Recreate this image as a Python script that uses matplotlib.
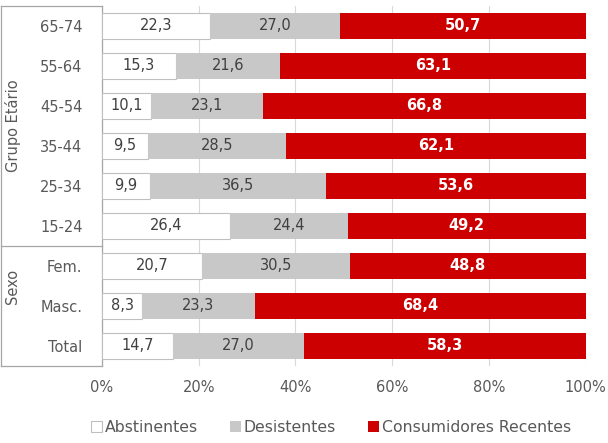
import matplotlib
matplotlib.use("Agg")
import matplotlib.pyplot as plt
from matplotlib.patches import Patch
from matplotlib.lines import Line2D
from matplotlib.transforms import blended_transform_factory
from matplotlib.ticker import FuncFormatter

plt.rcParams['font.family'] = ['DejaVu Sans']

categories = ["65-74", "55-64", "45-54", "35-44", "25-34", "15-24", "Fem.", "Masc.", "Total"]
abstinentes = [22.3, 15.3, 10.1, 9.5, 9.9, 26.4, 20.7, 8.3, 14.7]
desistentes = [27.0, 21.6, 23.1, 28.5, 36.5, 24.4, 30.5, 23.3, 27.0]
consumidores = [50.7, 63.1, 66.8, 62.1, 53.6, 49.2, 48.8, 68.4, 58.3]
series_names = ["Abstinentes", "Desistentes", "Consumidores Recentes"]
groups = [("Grupo Etário", 0, 5), ("Sexo", 6, 7)]
xticks = [0, 20, 40, 60, 80, 100]

C_WHITE = "#FFFFFF"
C_GRAY = "#C8C8C8"
C_RED = "#CC0000"
TXT = "#595959"
LINE = "#A6A6A6"

W, H = 608, 443
fig = plt.figure(figsize=(W / 100, H / 100), dpi=100)
ax = fig.add_axes([102 / W, 1 - 366 / H, (585.5 - 102) / W, (366 - 6) / H])

y = list(range(len(categories)))
h = 0.65
left2 = abstinentes
left3 = [a + d for a, d in zip(abstinentes, desistentes)]
ax.barh(y, abstinentes, height=h, color=C_WHITE, edgecolor="#BFBFBF", linewidth=0.8, zorder=3)
ax.barh(y, desistentes, left=left2, height=h, color=C_GRAY, zorder=3)
ax.barh(y, consumidores, left=left3, height=h, color=C_RED, zorder=3)

for i in y:
    a, d, c = abstinentes[i], desistentes[i], consumidores[i]
    ax.text(a / 2, i, f"{a:.1f}".replace(".", ","), ha="center", va="center",
            fontsize=10.5, color="#404040", zorder=4)
    ax.text(a + d / 2, i, f"{d:.1f}".replace(".", ","), ha="center", va="center",
            fontsize=10.5, color="#404040", zorder=4)
    ax.text(a + d + c / 2, i, f"{c:.1f}".replace(".", ","), ha="center", va="center",
            fontsize=10.5, color="white", fontweight="bold", zorder=4)

ax.set_xlim(0, 100)
ax.set_ylim(len(categories) - 0.5, -0.5)
ax.set_xticks(xticks)
ax.xaxis.set_major_formatter(FuncFormatter(lambda v, p: f"{int(v)}%"))
ax.set_yticks(y)
ax.set_yticklabels(categories)
ax.tick_params(axis="both", length=0, labelsize=10.5, colors=TXT)
ax.tick_params(axis="y", pad=14)
ax.tick_params(axis="x", pad=10)
ax.grid(axis="x", color="#D9D9D9", linewidth=0.8, zorder=0)
for s in ["top", "right", "bottom"]:
    ax.spines[s].set_visible(False)
ax.spines["left"].set_color(LINE)
ax.spines["left"].set_linewidth(0.9)

# group box
tr = blended_transform_factory(fig.transFigure, ax.transData)
x0, x1 = 0.6 / W, 102 / W
for yy in [-0.5, 5.5, 8.5]:
    fig.add_artist(Line2D([x0, x1], [yy, yy], transform=tr, color=LINE, linewidth=0.9))
fig.add_artist(Line2D([x0, x0], [-0.5, 8.5], transform=tr, color=LINE, linewidth=0.9))
for name, s, e in groups:
    fig.text(13 / W, (s + e) / 2, name, transform=tr, rotation=90, ha="center", va="center",
             fontsize=10.5, color=TXT)

handles = [Patch(facecolor=C_WHITE, edgecolor="#BFBFBF", linewidth=0.8),
           Patch(facecolor=C_GRAY), Patch(facecolor=C_RED)]
fig.legend(handles, series_names, loc="center", bbox_to_anchor=(331 / W, 1 - 427 / H), ncol=3,
           frameon=False, fontsize=11.3, labelcolor=TXT, handlelength=0.7, handleheight=0.7,
           handletextpad=0.2, columnspacing=2.0, borderpad=0, borderaxespad=0)

fig.savefig("out.png", dpi=100)
